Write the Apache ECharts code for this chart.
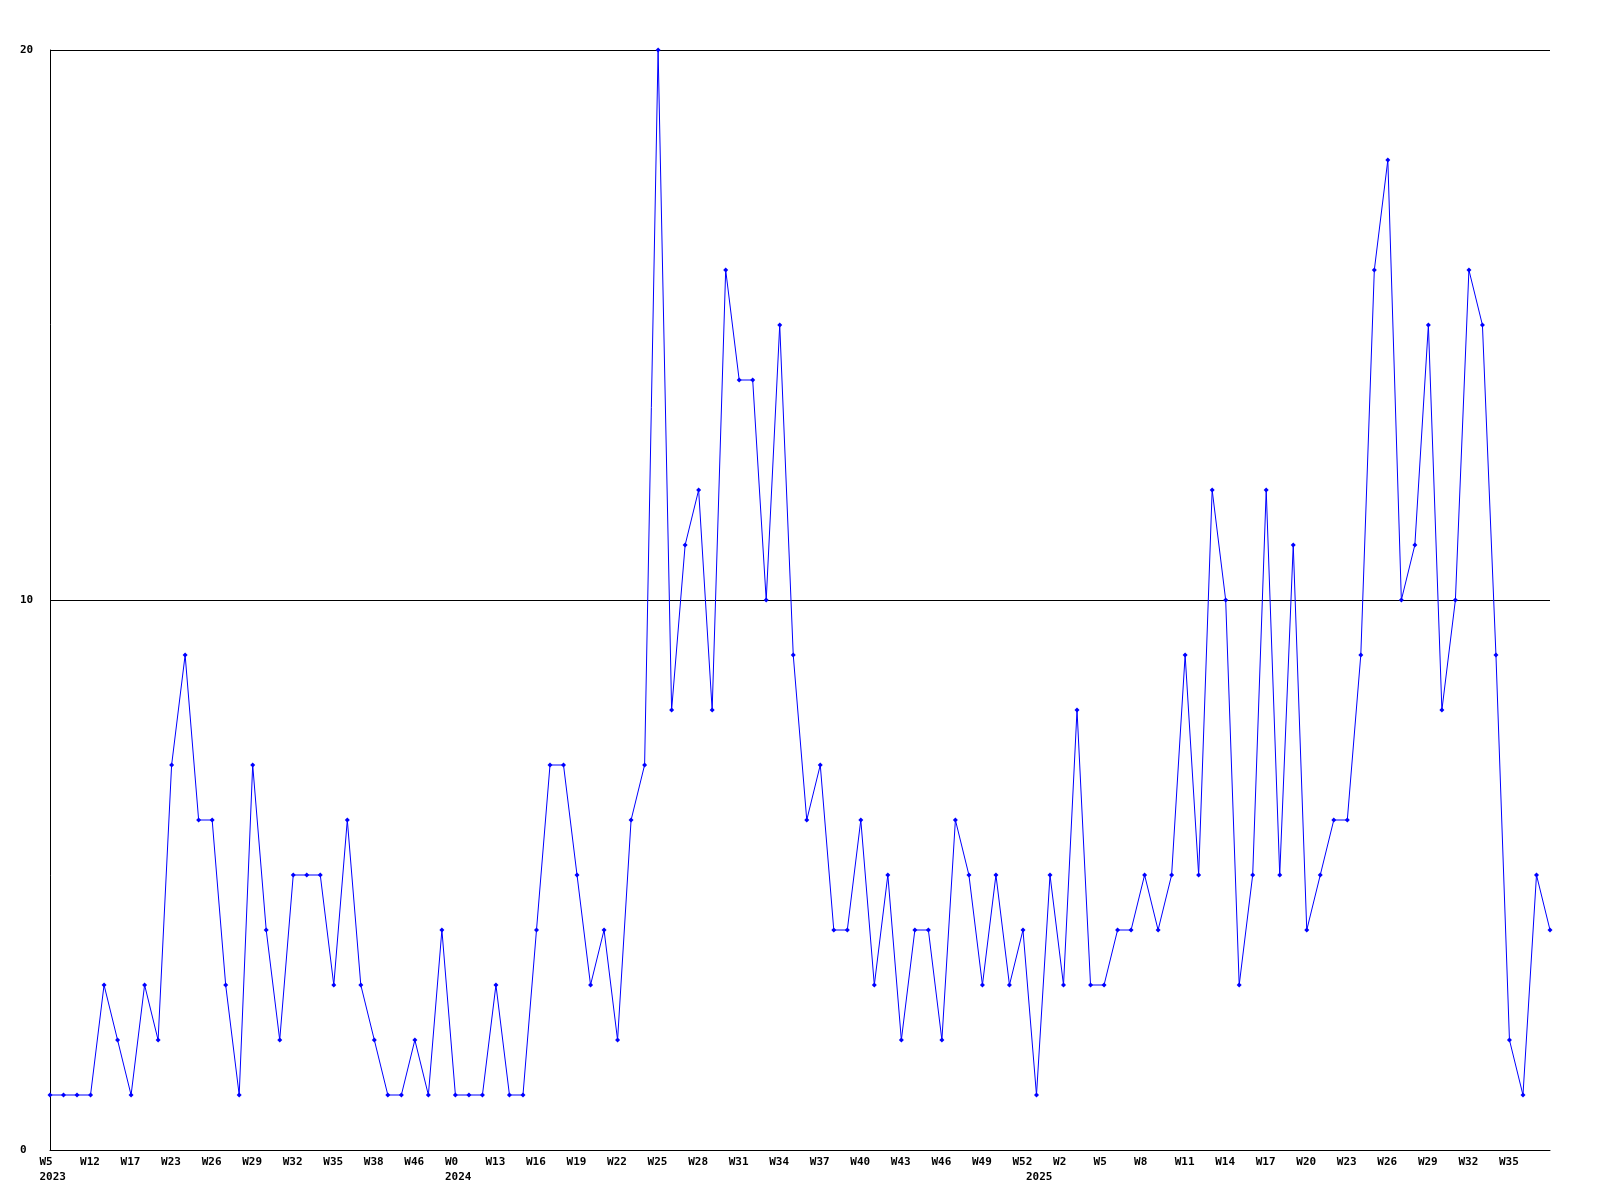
<!DOCTYPE html>
<html>
<head>
<meta charset="utf-8">
<script src="https://cdn.jsdelivr.net/npm/echarts@6/dist/echarts.min.js"></script>
<style>
html,body{margin:0;padding:0;background:#fff;}
#chart{width:1600px;height:1200px;}
</style>
</head>
<body>
<div id="chart"></div>
<script>
// Values per weekly point (112 points)
const values = [
  1,1,1,1,3,2,1,3,2,7,
  9,6,6,3,1,7,4,2,5,5,
  5,3,6,3,2,1,1,2,1,4,
  1,1,1,3,1,1,4,7,7,5,
  3,4,2,6,7,20,8,11,12,8,
  16,14,14,10,15,9,6,7,4,4,
  6,3,5,2,4,4,2,6,5,3,
  5,3,4,1,5,3,8,3,3,4,
  4,5,4,5,9,5,12,10,3,5,
  12,5,11,4,5,6,6,9,16,18,
  10,11,15,8,10,16,15,9,2,1,
  5,4
];
// Tick labels shown every third point
const weekLabels = [
  "W5","W12","W17","W23","W26","W29","W32","W35","W38","W46",
  "W0","W13","W16","W19","W22","W25","W28","W31","W34","W37",
  "W40","W43","W46","W49","W52","W2","W5","W8","W11","W14",
  "W17","W20","W23","W26","W29","W32","W35"
];
const yearLabels = ["2023","2024","2025"];
const yearIndex = [0, 30, 73];
const labelStep = 3;

const categories = values.map((v, i) => String(i));

const font = "'DejaVu Sans Mono', monospace";

const chart = echarts.init(document.getElementById('chart'));
chart.setOption({
  animation: false,
  backgroundColor: '#ffffff',
  grid: {left: 50, right: 50, top: 50, bottom: 50, containLabel: false},
  xAxis: {
    type: 'category',
    data: categories,
    boundaryGap: false,
    axisLine: {show: true, lineStyle: {color: '#000', width: 1}},
    axisTick: {show: false},
    splitLine: {show: false},
    axisLabel: {
      margin: 5,
      interval: function (i) { return i % labelStep === 0 || yearIndex.indexOf(i) >= 0; },
      formatter: function (val, i) {
        const w = (i % labelStep === 0) ? weekLabels[i / labelStep] : ' ';
        const yi = yearIndex.indexOf(i);
        let s = '{a|' + (w || ' ') + '}';
        if (yi >= 0) s += '\n{a|' + yearLabels[yi] + '}';
        return s;
      },
      rich: {
        a: {width: 21, align: 'left', fontFamily: font, fontWeight: 'bold', fontSize: 11, color: '#000', lineHeight: 14.5}
      }
    }
  },
  yAxis: {
    type: 'value',
    min: 0,
    max: 20,
    interval: 10,
    axisLine: {show: true, lineStyle: {color: '#000', width: 1}},
    axisTick: {show: false},
    splitLine: {show: true, lineStyle: {color: '#000', width: 1}},
    axisLabel: {
      align: 'left',
      margin: 30,
      fontFamily: font,
      fontWeight: 'bold',
      fontSize: 11,
      color: '#000'
    }
  },
  series: [{
    type: 'line',
    data: values,
    symbol: 'diamond',
    symbolSize: 5,
    showAllSymbol: true,
    lineStyle: {color: '#0000ff', width: 1},
    itemStyle: {color: '#0000ff'},
    clip: false
  }]
});
</script>
</body>
</html>
